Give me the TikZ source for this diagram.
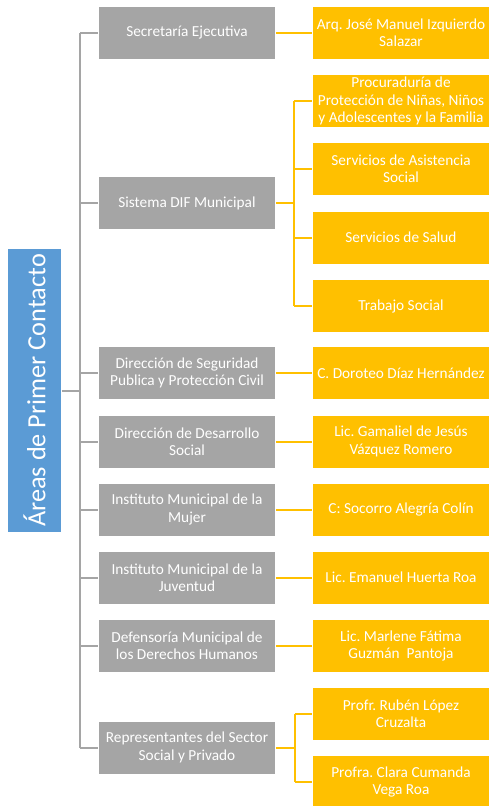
\documentclass[tikz,border=0pt]{standalone}
\usepackage{fontspec}
\setmainfont{Carlito}
\frenchspacing
\definecolor{gbox}{HTML}{A5A5A5}
\definecolor{obox}{HTML}{FFC000}
\definecolor{bbox}{HTML}{5B9BD5}
\begin{document}
\begin{tikzpicture}[x=1pt,y=-1pt,
  graybox/.style={rectangle, fill=gbox, draw=white, line width=0.8pt, minimum width=177pt, minimum height=53pt, inner sep=0pt, align=center, text=white, font=\fontsize{15.3}{17.3}\selectfont},
  orangebox/.style={rectangle, fill=obox, draw=white, line width=0.8pt, minimum width=177pt, minimum height=53pt, inner sep=0pt, align=center, text=white, font=\fontsize{15.3}{17.3}\selectfont},
  rootbox/.style={rectangle, fill=bbox, draw=white, line width=0.8pt, minimum width=284pt, minimum height=54pt, inner sep=0pt, text=white, font=\fontsize{26.3}{28}\selectfont},
  gline/.style={draw=gbox, line width=2pt},
  oline/.style={draw=obox, line width=2pt}]
\useasboundingbox (0,0) rectangle (488,806);
% root
\node[rootbox, rotate=90] (root) at (34.5,390.5) {Áreas de Primer Contacto};
% gray boxes
\node[graybox] (g1) at (187,33) {Secretaría Ejecutiva};
\node[graybox] (g2) at (187,203) {Sistema DIF Municipal};
\node[graybox] (g3) at (187,373) {Dirección de Seguridad\\Publica y Protección Civil};
\node[graybox] (g4) at (187,441.5) {Dirección de Desarrollo\\Social};
\node[graybox] (g5) at (187,509.5) {Instituto Municipal de la\\Mujer};
\node[graybox] (g6) at (187,577.5) {Instituto Municipal de la\\Juventud};
\node[graybox] (g7) at (187,646) {Defensoría Municipal de\\los Derechos Humanos};
\node[graybox] (g8) at (187,747.5) {Representantes del Sector\\Social y Privado};
% orange boxes
\node[orangebox] (o1) at (401,33) {Arq. José Manuel Izquierdo\\Salazar};
\node[orangebox] (o2a) at (401,101) {Procuraduría de\\Protección de Niñas, Niños\\y Adolescentes y la Familia};
\node[orangebox] (o2b) at (401,169) {Servicios de Asistencia\\Social};
\node[orangebox] (o2c) at (401,237.5) {Servicios de Salud};
\node[orangebox] (o2d) at (401,306) {Trabajo Social};
\node[orangebox] (o3) at (401,373) {C. Doroteo Díaz Hernández};
\node[orangebox] (o4) at (401,441.5) {Lic. Gamaliel de Jesús\\Vázquez Romero};
\node[orangebox] (o5) at (401,509.5) {C: Socorro Alegría Colín};
\node[orangebox] (o6) at (401,577.5) {Lic. Emanuel Huerta Roa};
\node[orangebox] (o7) at (401,646) {Lic. Marlene Fátima\\Guzmán~~Pantoja};
\node[orangebox] (o8a) at (401,714) {Profr. Rubén López\\Cruzalta};
\node[orangebox] (o8b) at (401,782) {Profra. Clara Cumanda\\Vega Roa};
% gray connectors
\coordinate (tk) at (80,0);
\draw[gline] (root.south) -- (tk |- root.south);
\draw[gline] (tk |- g1.west) -- (tk |- g8.west);
\foreach \g in {g1,g2,g3,g4,g5,g6,g7,g8}
  \draw[gline] (tk |- \g.west) -- (\g.west);
% orange connectors
\foreach \g/\o in {g1/o1,g3/o3,g4/o4,g5/o5,g6/o6,g7/o7}
  \draw[oline] (\g.east) -- (\o.west);
\coordinate (bk) at (294,0);
\draw[oline] (g2.east) -- (bk |- g2.east);
\draw[oline] (bk |- o2a.west) -- (bk |- o2d.west);
\foreach \o in {o2a,o2b,o2c,o2d}
  \draw[oline] (bk |- \o.west) -- (\o.west);
\coordinate (bk2) at (295,0);
\draw[oline] (g8.east) -- (bk2 |- g8.east);
\draw[oline] (bk2 |- o8a.west) -- (bk2 |- o8b.west);
\foreach \o in {o8a,o8b}
  \draw[oline] (bk2 |- \o.west) -- (\o.west);
\end{tikzpicture}
\end{document}
